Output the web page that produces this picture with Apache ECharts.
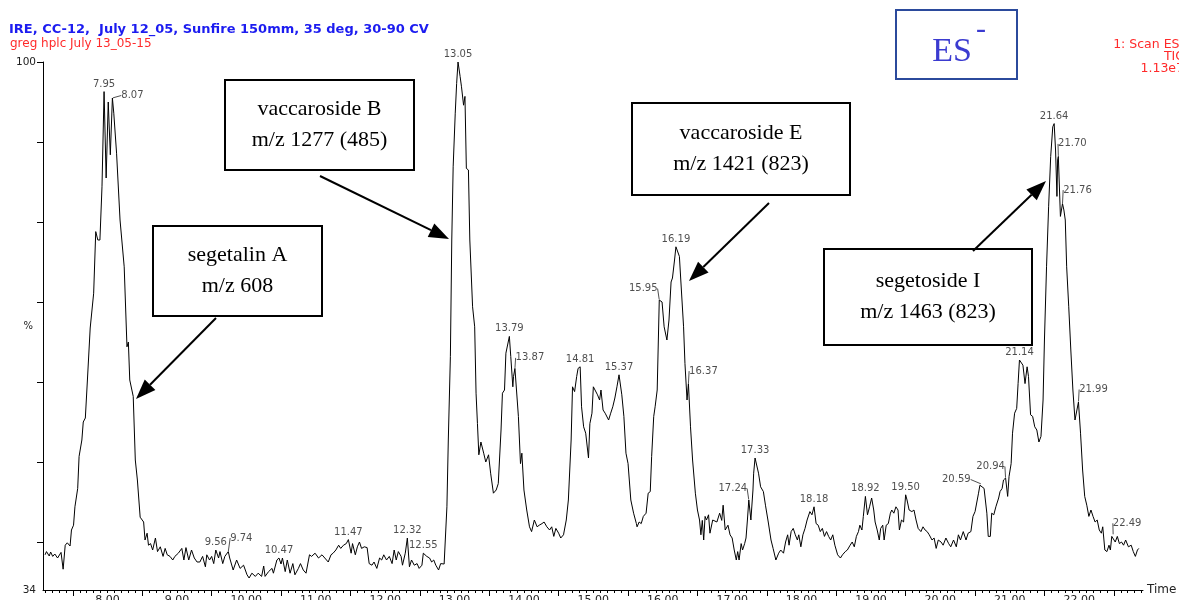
<!DOCTYPE html>
<html><head><meta charset="utf-8">
<script src="https://cdn.jsdelivr.net/npm/echarts@6/dist/echarts.min.js"></script>
<style>html,body{margin:0;padding:0;background:#fff}#c{width:1179px;height:600px}</style>
</head><body><div id="c"></div>
<script>
// ---- data: TIC trace (time in min, relative intensity %) ----
const trace = [
[7.10,38.4],[7.12,38.8],[7.16,38.25],[7.18,38.75],[7.21,38.2],[7.24,38.5],[7.28,38.0],[7.33,38.7],[7.36,36.6],[7.39,39.6],[7.42,39.9],[7.46,39.5],[7.48,41.5],[7.51,42.1],[7.53,44.4],[7.57,46.7],[7.59,50.7],[7.63,52.75],[7.65,55.0],[7.68,55.5],[7.71,60.25],[7.75,66.75],[7.77,66.5],[7.80,71.1],[7.83,78.8],[7.86,77.75],[7.89,77.75],[7.92,84.4],[7.95,96.3],[7.98,85.5],[8.01,95.0],[8.04,88.4],[8.07,95.5],[8.09,93.6],[8.13,88.6],[8.18,80.25],[8.24,74.4],[8.28,64.4],[8.30,65.0],[8.32,60.25],[8.37,58.2],[8.40,50.25],[8.43,47.75],[8.47,43.1],[8.52,42.5],[8.54,40.25],[8.57,41.1],[8.59,39.6],[8.62,39.8],[8.65,39.0],[8.69,40.5],[8.72,38.8],[8.76,39.4],[8.80,38.2],[8.83,39.2],[8.86,38.4],[8.90,38.2],[8.94,37.75],[8.97,38.2],[9.02,38.6],[9.07,39.2],[9.10,37.75],[9.13,39.3],[9.17,37.75],[9.21,39.0],[9.25,38.0],[9.29,37.5],[9.33,37.5],[9.37,38.2],[9.41,36.9],[9.43,38.4],[9.47,37.75],[9.50,38.2],[9.53,37.3],[9.56,39.0],[9.60,38.0],[9.62,38.8],[9.66,37.3],[9.69,38.2],[9.74,38.8],[9.76,38.0],
[9.81,36.5],[9.86,37.75],[9.91,36.7],[9.96,37.1],[10.01,35.9],[10.04,35.5],[10.08,36.1],[10.13,35.7],[10.17,36.1],[10.22,35.7],[10.25,37.0],[10.27,35.7],[10.32,36.3],[10.37,36.7],[10.39,36.1],[10.44,37.75],[10.47,38.0],[10.50,37.25],[10.52,38.0],[10.56,36.3],[10.59,37.75],[10.63,36.1],[10.67,37.3],[10.70,35.9],[10.75,36.7],[10.78,37.3],[10.82,36.5],[10.86,36.1],[10.91,38.4],[10.94,38.2],[10.99,38.6],[11.04,38.0],[11.09,38.4],[11.13,38.0],[11.18,37.5],[11.22,38.4],[11.25,38.6],[11.29,39.0],[11.33,39.6],[11.36,39.2],[11.40,39.6],[11.44,39.8],[11.47,40.3],[11.51,38.6],[11.53,39.8],[11.57,38.4],[11.60,39.4],[11.63,40.0],[11.66,39.2],[11.70,39.4],[11.74,39.3],[11.77,37.3],[11.81,37.1],[11.84,37.5],[11.88,36.7],[11.92,38.0],[11.95,37.75],[11.98,38.4],[12.02,37.75],[12.06,38.2],[12.10,37.3],[12.13,39.0],[12.16,37.75],[12.19,38.8],[12.23,38.2],[12.25,37.1],[12.29,38.6],[12.32,40.5],[12.35,36.9],[12.38,37.75],[12.42,37.1],[12.46,37.3],[12.49,36.7],[12.53,37.1],[12.55,38.6],[12.60,38.2],[12.64,38.0],[12.67,37.5],[12.70,37.75],[12.73,37.1],[12.77,36.5],[12.80,37.3],[12.85,37.25],[12.89,44.4],[12.91,52.75],
[12.94,63.2],[12.96,77.75],[12.98,86.9],[13.01,93.6],[13.03,97.3],[13.05,100],[13.08,98.2],[13.10,96.9],[13.13,94.6],[13.15,95.7],[13.17,86.7],[13.20,86.5],[13.22,77.75],[13.26,69.4],[13.29,66.9],[13.31,58.6],[13.33,54.8],[13.35,50.9],[13.38,52.5],[13.42,51.1],[13.45,50.0],[13.49,50.9],[13.52,48.6],[13.56,46.1],[13.60,46.5],[13.63,47.3],[13.67,54.0],[13.69,58.6],[13.72,59.0],[13.74,63.6],[13.79,65.7],[13.81,63.2],[13.84,59.4],[13.85,60.7],[13.87,61.7],[13.92,55.7],[13.95,49.8],[13.97,51.1],[14.00,46.5],[14.04,44.0],[14.08,41.9],[14.11,41.3],[14.15,42.75],[14.19,41.9],[14.22,42.1],[14.26,42.3],[14.29,42.5],[14.33,41.9],[14.37,41.5],[14.40,41.9],[14.43,40.7],[14.46,41.7],[14.50,41.1],[14.53,40.5],[14.57,40.9],[14.61,42.75],[14.64,45.25],[14.68,52.75],[14.70,59.4],[14.73,58.8],[14.76,60.7],[14.78,61.7],[14.81,61.9],[14.83,56.9],[14.86,54.4],[14.89,53.6],[14.93,50.5],[14.95,54.8],[14.98,56.1],[15.00,59.4],[15.02,59.2],[15.06,58.4],[15.09,57.75],[15.11,59.0],[15.14,56.5],[15.17,56.1],[15.22,55.25],[15.25,56.1],[15.28,56.9],[15.31,58.0],[15.34,59.4],[15.37,60.9],[15.41,58.4],[15.44,55.7],[15.47,51.1],[15.50,49.8],[15.54,45.25],[15.58,43.6],[15.62,42.3],[15.63,41.9],[15.66,42.5],[15.69,42.3],[15.72,43.2],[15.76,43.6],[15.79,46.1],[15.82,46.3],[15.84,50.7],[15.87,55.7],[15.89,56.9],[15.92,59.0],[15.95,70.25],
[15.99,70.0],[16.02,66.9],[16.06,65.25],[16.09,67.75],[16.12,72.5],[16.14,73.0],[16.17,75.25],[16.19,76.9],[16.24,75.7],[16.26,72.75],[16.30,66.9],[16.32,62.3],[16.35,57.75],[16.37,59.8],[16.40,54.4],[16.43,50.25],[16.47,46.1],[16.50,44.0],[16.53,42.75],[16.55,40.9],[16.57,42.7],[16.59,40.25],[16.61,43.2],[16.63,42.75],[16.66,43.4],[16.68,41.1],[16.72,42.75],[16.74,42.7],[16.78,42.5],[16.82,43.6],[16.85,42.7],[16.87,44.6],[16.90,41.5],[16.94,42.1],[16.97,40.9],[17.00,40.5],[17.03,39.0],[17.06,37.75],[17.08,38.8],[17.10,37.75],[17.13,39.8],[17.15,39.0],[17.18,39.8],[17.20,40.5],[17.22,42.75],[17.24,45.25],[17.27,42.75],[17.30,46.5],[17.31,48.6],[17.33,50.5],[17.38,48.6],[17.41,46.9],[17.45,46.3],[17.48,44.6],[17.52,42.5],[17.56,40.25],[17.59,39.2],[17.63,37.75],[17.67,38.6],[17.70,39.0],[17.74,38.6],[17.77,40.0],[17.80,40.9],[17.82,39.6],[17.85,41.3],[17.88,41.7],[17.91,40.9],[17.94,40.25],[17.96,40.9],[17.99,39.4],[18.02,40.9],[18.05,41.7],[18.08,42.75],[18.12,43.8],[18.15,43.4],[18.18,44.4],[18.21,42.3],[18.24,42.1],[18.27,41.3],[18.30,41.7],[18.33,40.7],[18.36,41.3],[18.39,40.7],[18.42,40.25],[18.45,40.9],[18.48,39.6],[18.52,38.4],[18.56,38.0],[18.59,38.4],[18.63,38.8],[18.66,39.0],[18.70,39.6],[18.73,40.0],[18.76,39.4],[18.79,40.7],[18.82,41.3],[18.84,42.1],[18.87,41.5],[18.89,43.2],[18.92,45.7],[18.95,43.4],[18.98,44.4],[19.01,45.5],[19.04,44.0],[19.06,42.5],[19.09,41.5],[19.12,40.25],[19.14,41.7],[19.17,42.1],[19.19,40.25],[19.22,42.1],[19.25,42.3],[19.28,43.6],[19.30,44.0],[19.33,43.6],[19.36,44.4],[19.39,44.0],[19.41,41.5],[19.44,42.75],[19.47,42.5],[19.50,45.9],[19.52,45.25],[19.55,44.0],[19.59,43.8],[19.62,44.0],[19.65,42.75],[19.68,41.7],[19.72,41.3],[19.75,41.9],[19.78,41.5],[19.81,41.3],[19.84,40.9],[19.88,40.25],[19.91,40.5],[19.94,39.2],[19.97,40.25],
[20.01,40.0],[20.04,39.6],[20.08,40.5],[20.12,39.8],[20.15,39.4],[20.19,40.25],[20.23,39.4],[20.26,40.9],[20.29,40.25],[20.33,41.3],[20.37,40.25],[20.40,41.1],[20.44,41.3],[20.47,43.2],[20.50,43.8],[20.52,43.8],[20.55,46.1],[20.57,47.1],[20.59,47.25],[20.63,46.7],[20.67,43.6],[20.69,40.7],[20.72,40.7],[20.74,43.6],[20.77,43.4],[20.80,44.4],[20.84,45.5],[20.86,46.3],[20.89,46.7],[20.91,47.75],[20.94,48.0],[20.97,45.7],[20.99,48.2],[21.02,49.8],[21.04,53.6],[21.07,56.1],[21.10,56.7],[21.12,59.8],[21.14,62.75],[21.19,62.1],[21.22,59.8],[21.25,61.9],[21.27,60.7],[21.30,55.9],[21.33,55.7],[21.36,54.4],[21.39,54.0],[21.42,52.5],[21.45,53.2],[21.48,57.75],[21.50,65.25],[21.53,74.4],[21.56,81.9],[21.59,88.2],[21.62,91.9],[21.64,92.3],[21.66,89.0],[21.68,83.2],[21.69,87.75],[21.70,88.2],[21.73,80.7],[21.76,82.3],[21.78,81.5],[21.80,80.25],[21.82,74.4],[21.85,69.4],[21.88,64.0],[21.91,59.0],[21.94,55.25],[21.96,55.0],[21.99,57.5],[22.02,53.6],[22.05,49.0],[22.08,45.7],[22.11,44.6],[22.14,43.2],[22.17,44.0],[22.20,43.2],[22.23,42.5],[22.26,42.75],[22.29,41.5],[22.32,41.1],[22.34,41.9],[22.37,39.0],[22.40,38.8],[22.43,39.6],[22.45,39.0],[22.47,40.7],[22.49,40.9],[22.52,40.0],[22.55,40.7],[22.58,39.8],[22.61,40.0],[22.64,39.6],[22.67,40.25],[22.71,39.4],[22.75,39.6],[22.78,38.8],[22.81,38.2],[22.84,39.0],[22.86,39.2]
];

// labelled peak retention times
const peakTimes = ['7.95','8.07','9.56','9.74','10.47','11.47','12.32','12.55','13.05','13.79','13.87','14.81','15.37','15.95','16.19','16.37','17.24','17.33','18.18','18.92','19.50','20.59','20.94','21.14','21.64','21.70','21.76','21.99','22.49'];

// axis tick labels
const xLabelValues = [8,9,10,11,12,13,14,15,16,17,18,19,20,21,22];
const yLabelValues = [34,100];
const yTickValues = [40,50,60,70,80,90,100];

// annotation texts
const compoundNotes = [
  {text:'vaccaroside B\nm/z 1277 (485)'},
  {text:'segetalin A\nm/z 608'},
  {text:'vaccaroside E\nm/z 1421 (823)'},
  {text:'segetoside I\nm/z 1463 (823)'}
];

// ---- styling / layout (not data) ----
const labelMoves = {'8.07':[20,5],'9.74':[13,-6],'13.87':[15,-3],'15.95':[-16,-4],'16.37':[15,-5],'17.24':[-16,-4],'20.59':[-25,3],'20.94':[-15,-4],'21.70':[14,-5],'21.76':[15,-6],'21.99':[15,-5],'22.49':[14,-4]};
const noteBoxes = [
  {x:225,y:80,w:189,h:90, arrow:[320,176,449,239]},
  {x:153,y:226,w:169,h:90, arrow:[216,318,136,399]},
  {x:632,y:103,w:218,h:92, arrow:[769,203,689,281]},
  {x:824,y:249,w:208,h:96, arrow:[973,251,1046,181]}
];

const xMinorTicks = []; for (let i = 71; i <= 229; i++) xMinorTicks.push(i / 10);
const xMajorTicks = []; for (let i = 7; i <= 22; i++) xMajorTicks.push(i + 0.5);

const peakData = peakTimes.map(function (s) {
  const t = parseFloat(s);
  const pt = trace.find(function (p) { return Math.abs(p[0] - t) < 1e-6; });
  const item = {name: s, value: [t, pt[1]]};
  if (labelMoves[s]) item.labelLine = {show: true};
  return item;
});

const SMALL = 'DejaVu Sans';
const graphics = [];
noteBoxes.forEach(function (b, i) {
  graphics.push({type:'rect', shape:{x:b.x, y:b.y, width:b.w, height:b.h}, style:{fill:'#fff', stroke:'#000', lineWidth:2}, z:10});
  graphics.push({type:'text', x:b.x + b.w / 2, y:b.y + b.h / 2, style:{text:compoundNotes[i].text, font:'22px "Liberation Serif"', fill:'#000', align:'center', verticalAlign:'middle', lineHeight:31}, z:11});
  const a = b.arrow, dx = a[2] - a[0], dy = a[3] - a[1], L = Math.sqrt(dx * dx + dy * dy), ux = dx / L, uy = dy / L;
  const hl = 20, hw = 7.5, bx = a[2] - ux * hl, by = a[3] - uy * hl;
  graphics.push({type:'line', shape:{x1:a[0], y1:a[1], x2:bx, y2:by}, style:{stroke:'#000', lineWidth:2}, z:10});
  graphics.push({type:'polygon', shape:{points:[[a[2], a[3]], [bx - uy * hw, by + ux * hw], [bx + uy * hw, by - ux * hw]]}, style:{fill:'#000'}, z:10});
});
graphics.push({type:'text', x:9, y:30, style:{text:'IRE, CC-12,  July 12_05, Sunfire 150mm, 35 deg, 30-90 CV', font:'bold 13px "DejaVu Sans"', fill:'#1c1cf0', verticalAlign:'middle'}});
graphics.push({type:'text', x:10, y:44, style:{text:'greg hplc July 13_05-15', font:'12px "DejaVu Sans"', fill:'#ff2a2a', verticalAlign:'middle'}});
graphics.push({type:'text', x:1184, y:45, style:{text:'1: Scan ES-', font:'12.5px "DejaVu Sans"', fill:'#ff2a2a', align:'right', verticalAlign:'middle'}});
graphics.push({type:'text', x:1184, y:57, style:{text:'TIC', font:'12.5px "DejaVu Sans"', fill:'#ff2a2a', align:'right', verticalAlign:'middle'}});
graphics.push({type:'text', x:1184, y:69, style:{text:'1.13e7', font:'12.5px "DejaVu Sans"', fill:'#ff2a2a', align:'right', verticalAlign:'middle'}});
graphics.push({type:'rect', shape:{x:896, y:10, width:121, height:69}, style:{fill:'#fff', stroke:'#2b4a9c', lineWidth:2}});
graphics.push({type:'text', x:952, y:52, style:{text:'ES', font:'34px "Liberation Serif"', fill:'#3b3bd0', align:'center', verticalAlign:'middle'}});
graphics.push({type:'text', x:981, y:30, style:{text:'-', font:'30px "Liberation Serif"', fill:'#3b3bd0', align:'center', verticalAlign:'middle'}});

const chart = echarts.init(document.getElementById('c'), null, {renderer:'canvas'});
chart.setOption({
  animation: false,
  backgroundColor: '#fff',
  grid: {left:43, right:36, top:62, bottom:10, containLabel:false, outerBoundsMode:'none'},
  xAxis: [{
    type:'value', min:7.07, max:22.92,
    axisLine:{show:true, onZero:false, lineStyle:{color:'#000', width:1}},
    axisTick:{show:true, customValues:xMinorTicks, length:3, lineStyle:{color:'#000'}},
    axisLabel:{show:true, customValues:xLabelValues, formatter:function (v) { return v.toFixed(2); }, color:'#222', fontSize:11, fontFamily:SMALL, margin:5, hideOverlap:false},
    splitLine:{show:false},
    name:'Time', nameLocation:'end', nameGap:4, nameMoveOverlap:false, nameTextStyle:{color:'#222', fontSize:12, fontFamily:SMALL, verticalAlign:'middle'}
  },{
    type:'value', min:7.07, max:22.92, position:'bottom',
    axisLine:{show:false},
    axisTick:{show:true, customValues:xMajorTicks, length:6, lineStyle:{color:'#000'}},
    axisLabel:{show:false}, splitLine:{show:false}
  }],
  yAxis: {
    type:'value', min:34, max:100,
    axisLine:{show:true, onZero:false, lineStyle:{color:'#000', width:1}},
    axisTick:{show:true, customValues:yTickValues, length:6, lineStyle:{color:'#000'}},
    axisLabel:{show:true, customValues:yLabelValues, color:'#222', fontSize:10.5, fontFamily:SMALL, margin:7},
    splitLine:{show:false},
    name:'%', nameLocation:'middle', nameRotate:0, nameGap:10, nameMoveOverlap:false, nameTextStyle:{color:'#222', fontSize:10, fontFamily:SMALL}
  },
  series: [{
    type:'line', data:trace, xAxisIndex:0, showSymbol:false, symbol:'none',
    lineStyle:{color:'#000', width:1}, silent:true, z:3
  },{
    type:'scatter', data:peakData, xAxisIndex:0, symbol:'circle', symbolSize:1,
    itemStyle:{color:'rgba(0,0,0,0)'}, silent:true, z:4,
    label:{show:true, position:'top', distance:2, formatter:function (p) { return p.name; }, color:'#222', fontSize:10, fontFamily:SMALL},
    labelLine:{show:false, lineStyle:{color:'#222', width:0.8}},
    labelLayout:function (p) { const m = labelMoves[peakTimes[p.dataIndex]]; return m ? {dx:m[0], dy:m[1]} : {}; }
  }],
  graphic: graphics
});
</script>
</body></html>
